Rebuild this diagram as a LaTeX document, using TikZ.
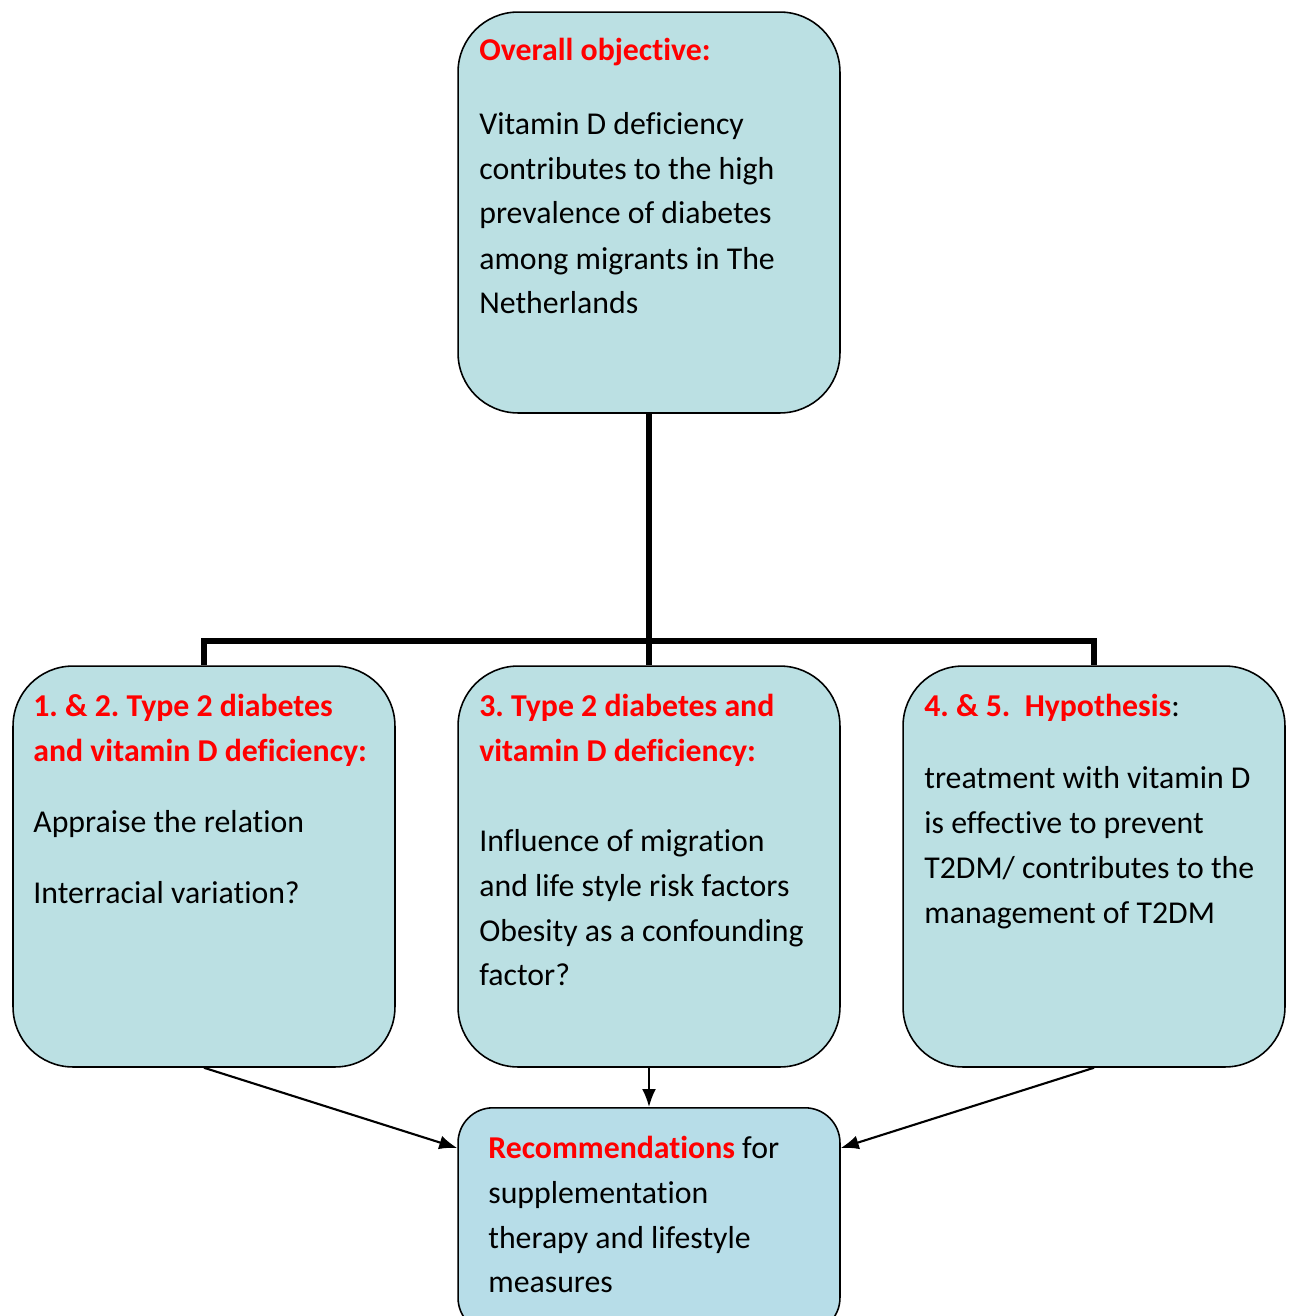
\documentclass[tikz,border=0pt]{standalone}
\usepackage{fontspec}
\setmainfont{Carlito}[Ligatures=NoCommon]
\frenchspacing
\usetikzlibrary{positioning}
\usetikzlibrary{arrows.meta}
\definecolor{boxColor}{RGB}{187,224,227}
\definecolor{recoColor}{RGB}{183,221,232}
\definecolor{titleColor}{rgb}{1,0,0}

\begin{document}
\begin{tikzpicture}[x=0.02cm,y=-0.02cm]

            \tikzstyle{bigBox} = [draw, black, line width=0.9pt, fill=boxColor, rounded corners=1.2cm, minimum width=7.64cm, minimum height=8.02cm, inner sep=0pt];
            \tikzstyle{recoBox} = [draw, black, line width=0.9pt, fill=recoColor, rounded corners=0.7cm, minimum width=7.64cm, minimum height=4.5cm, inner sep=0pt];
            \tikzstyle{lineText} = [anchor=base west, inner sep=0pt, font=\fontsize{18.1}{22}\selectfont];
            \tikzstyle{treeEdge} = [line width=3.4pt];
            \tikzstyle{arrowEdge} = [line width=1.2pt, -{Latex[length=0.36cm,width=0.28cm]}];

            \useasboundingbox (0,0) rectangle (1289,1316);
            \clip (0,0) rectangle (1289,1316);

            \node[bigBox] (objective) at (649,212.5) {};
            \node[bigBox] (left)      at (204,866.5) {};
            \node[bigBox] (middle)    at (649,866.5) {};
            \node[bigBox] (right)     at (1094,866.5) {};
            \node[recoBox, anchor=north] (reco) at (649,1107) {};

            \coordinate (split) at (649,641);
            \coordinate (splitL) at (204,641);
            \coordinate (splitR) at (1094,641);

            \draw[treeEdge] (objective.south) -- (split);
            \draw[treeEdge] (left.north) -- (splitL) -- (splitR) -- (right.north);
            \draw[treeEdge] (split) -- (middle.north);

            \draw[arrowEdge] (left.south) -- (reco.west |- 0,1148);
            \draw[arrowEdge] (middle.south) -- (reco.north);
            \draw[arrowEdge] (right.south) -- (reco.east |- 0,1148);

            % overall objective
            \node[lineText] (obj0) at (479,60)  {\textbf{\color{titleColor}Overall objective:}};
            \node[lineText] (obj1) at (479,134) {Vitamin D deficiency};
            \node[lineText] (obj2) at (479,179) {contributes to the high};
            \node[lineText] (obj3) at (479,223) {prevalence of diabetes};
            \node[lineText] (obj4) at (479,269) {among migrants in The};
            \node[lineText] (obj5) at (479,313) {Netherlands};

            % 1. & 2.
            \node[lineText] (lft0) at (33,716) {\textbf{\color{titleColor}1. \& 2. Type 2 diabetes}};
            \node[lineText] (lft1) at (33,761) {\textbf{\color{titleColor}and vitamin D deficiency:}};
            \node[lineText] (lft2) at (33,832) {Appraise the relation};
            \node[lineText] (lft3) at (33,903) {Interracial variation?};

            % 3.
            \node[lineText] (mid0) at (479,716) {\textbf{\color{titleColor}3. Type 2 diabetes and}};
            \node[lineText] (mid1) at (479,761) {\textbf{\color{titleColor}vitamin D deficiency:}};
            \node[lineText] (mid2) at (479,851) {Influence of migration};
            \node[lineText] (mid3) at (479,896) {and life style risk factors};
            \node[lineText] (mid4) at (479,941) {Obesity as a confounding};
            \node[lineText] (mid5) at (479,985) {factor?};

            % 4. & 5.
            \node[lineText] (rgt0) at (924,716) {\textbf{\color{titleColor}4. \& 5.\ \ Hypothesis}:};
            \node[lineText] (rgt1) at (924,788) {treatment with vitamin D};
            \node[lineText] (rgt2) at (924,833) {is effective to prevent};
            \node[lineText] (rgt3) at (924,878) {T2DM/ contributes to the};
            \node[lineText] (rgt4) at (924,923) {management of T2DM};

            % recommendations
            \node[lineText] (rec0) at (488,1158) {\textbf{\color{titleColor}Recommendations} for};
            \node[lineText] (rec1) at (488,1203) {supplementation};
            \node[lineText] (rec2) at (488,1248) {therapy and lifestyle};
            \node[lineText] (rec3) at (488,1292) {measures};
          \end{tikzpicture}
\end{document}
